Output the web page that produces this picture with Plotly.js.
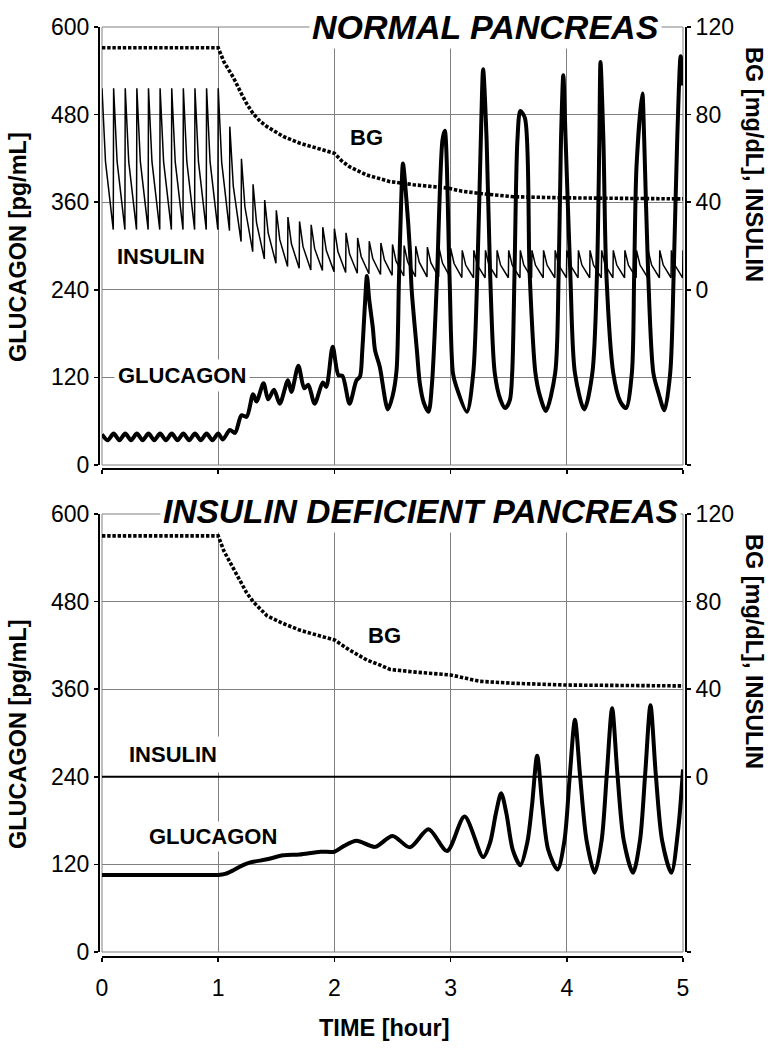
<!DOCTYPE html>
<html><head><meta charset="utf-8">
<script src="https://cdn.plot.ly/plotly-3.0.1.min.js"></script>
<style>html,body{margin:0;padding:0;background:#fff}</style>
</head><body>
<div id="chart" style="width:776px;height:1050px"></div>
<script>
// ---------- tick labels ----------
const timeTicks = [0, 1, 2, 3, 4, 5];
const glucTicks = [0, 120, 240, 360, 480, 600];
const rightTickVals = [-80, -40, 0, 40, 80, 120];
const rightTickText = ['', '', '0', '40', '80', '120'];

// ---------- NORMAL PANCREAS ----------
// glucagon [pg/mL]
const normGlucT = [0,0.05,0.1,0.15,0.2,0.25,0.3,0.35,0.4,0.45,0.5,0.55,0.6,0.65,0.7,0.75,0.8,0.85,0.9,0.95,1.0,
  1.04,1.10,1.145,1.20,1.245,1.30,1.33,1.39,1.43,1.48,1.53,1.60,1.63,1.69,1.74,1.775,1.83,1.90,1.93,1.985,2.035,2.07,2.13,2.19,2.22,
  2.24,2.265,2.28,2.30,2.33,2.35,2.39,2.46,2.50,
  2.535,2.555,2.575,2.59,2.62,2.65,2.665,2.71,2.735,2.77,2.81,
  2.84,2.88,2.93,2.95,2.99,3.02,3.05,3.14,
  3.195,3.23,3.26,3.28,3.31,3.34,3.38,3.43,3.47,
  3.51,3.53,3.55,3.575,3.60,3.64,3.68,3.73,3.77,3.82,
  3.90,3.93,3.95,3.97,3.99,4.03,4.07,4.15,
  4.22,4.26,4.28,4.29,4.315,4.34,4.40,4.46,4.51,
  4.56,4.58,4.60,4.65,4.665,4.70,4.745,4.79,4.84,
  4.89,4.92,4.95,4.98,5.0];
const normGlucV = [42,34,43,34,43,34,43,34,43,34,43,34,43,34,43,34,43,34,43,34,43,
  35,48,44,68,66,97,87,112,90,103,84,116,100,136,105,110,84,113,107,162,123,122,84,116,121,
  157,226,259,226,189,157,135,76,94,
  130,250,363,413,363,294,240,157,112,85,73,
  112,244,445,458,263,126,107,73,
  126,263,445,542,445,263,126,89,78,
  89,126,263,445,485,475,263,126,94,74,
  126,263,445,534,445,263,126,76,
  126,263,445,552,445,263,126,87,78,
  126,263,409,509,452,263,126,98,75,
  126,263,445,560,520];

// insulin (right axis units), one saw tooth per pulse
const normInsPeakT = [0,0.1,0.2,0.3,0.4,0.5,0.6,0.7,0.8,0.9,1.0,1.1,1.2,1.3,1.4,1.5,1.6,1.7,1.8,1.9,2.0,
  2.1,2.2,2.3,2.4,2.5,2.6,2.7,2.8,2.9,3.0,3.1,3.2,3.3,3.4,3.5,3.6,3.7,3.8,3.9,4.0,
  4.1,4.2,4.3,4.4,4.5,4.6,4.7,4.8,4.9,5.0];
const normInsPeak = [92,92,92,92,92,92,92,92,92,92,92,
  74.5,59.8,48.2,41,36.3,33.2,31.2,29.7,28.6,27.9,26,23.7,22.2,21.4,20.7,20.2,19.9,19.5,19.2,19,
  18,18,18,18,18,18,18,18,18,18,18,18,18,18,18,18,18,18,18,18];
const normInsMid = [58.5,58.5,58.5,58.5,58.5,58.5,58.5,58.5,58.5,58.5,
  58.2,47.2,37.8,30.5,26,22.9,21,19.7,18.8,18,17.5,16.4,15.2,14.3,13.7,13.2,12.8,12.6,12.4,12.2,12,
  11.3,11.3,11.3,11.3,11.3,11.3,11.3,11.3,11.3,11.3,11.3,11.3,11.3,11.3,11.3,11.3,11.3,11.3,11.3];
const normInsTrough = [27.5,27.5,27.5,27.5,27.5,27.5,27.5,27.5,27.5,27.5,
  27,22,17.4,14.1,12.1,10.6,9.8,9.0,8.8,8.3,7.9,7.6,7.3,7.0,6.6,6.3,6.0,5.9,5.8,5.7,5.6,
  5.5,5.5,5.5,5.5,5.5,5.5,5.5,5.5,5.5,5.5,5.5,5.5,5.5,5.5,5.5,5.5,5.5,5.5,5.5];
const toothMidOffset = 0.03;
const toothTroughOffset = 0.097;

// blood glucose [mg/dL] (right axis)
const normBgT = [0,1.0,1.05,1.13,1.2,1.245,1.3,1.36,1.42,1.5,1.56,1.7,1.85,2.0,2.06,2.13,2.28,2.39,2.48,2.68,2.97,3.1,3.25,3.54,3.97,5.0];
const normBgV = [110.5,110.5,104,97,89.5,85,80.5,77,74.5,71.8,70,67,64.6,62.3,59,56.2,52.4,50.8,49.4,48,46.5,45,44,42.5,42,41.5];

// ---------- INSULIN DEFICIENT PANCREAS ----------
const defGlucT = [0,0.9,1.0,1.06,1.13,1.2,1.27,1.42,1.56,1.70,
  1.88,2.0,2.08,2.19,2.35,2.50,2.65,2.81,2.97,3.12,
  3.28,3.34,3.39,3.435,3.48,3.535,3.60,
  3.66,3.70,3.745,3.79,3.84,3.92,
  3.98,4.025,4.07,4.115,4.17,4.24,
  4.30,4.345,4.39,4.435,4.49,4.57,
  4.63,4.675,4.72,4.765,4.82,4.90,
  4.96,5.0];
const defGlucV = [105.5,105.5,105.5,107,112,118,122.4,127,132.4,133.6,
  137.4,137.4,145,152.5,144,159,143.4,168,138.4,185.5,
  130,150,190,217.5,190,140,119,
  150,200,269,200,140,113,
  153,240,318,240,153,108.6,
  153,245,334,245,153,108.6,
  153,245,338,245,153,108.6,
  170,250];
const defBgT = [0,1.0,1.05,1.13,1.245,1.3,1.42,1.56,1.7,1.85,2.0,2.13,2.28,2.39,2.48,2.7,3.0,3.25,3.54,3.99,5.0];
const defBgV = [110,110,103,95,84,80,73.5,70,67,64.7,62.5,57.9,53.3,51.1,49,47.8,46.5,43.6,42.7,41.9,41.5];
const defInsT = [0, 5];
const defInsV = [0, 0];

// ---------- build insulin saw tooth ----------
const insX = [], insY = [];
for (let k = 0; k < normInsPeak.length; k++) {
  insX.push(normInsPeakT[k]); insY.push(normInsPeak[k]);
  if (k < normInsTrough.length) {
    insX.push(normInsPeakT[k] + toothMidOffset); insY.push(normInsMid[k]);
    insX.push(normInsPeakT[k] + toothTroughOffset); insY.push(normInsTrough[k]);
  }
}

const BLACK = '#000';
const GRID = '#808080';
const FONT = '"Liberation Sans", Arial, Helvetica, sans-serif';
const bgLine = {color: BLACK, width: 3.6, dash: '3.4px,1.8px'};

const traces = [
  {x: normBgT, y: normBgV, xaxis: 'x', yaxis: 'y2', mode: 'lines', line: bgLine, hoverinfo: 'skip'},
  {x: insX, y: insY, xaxis: 'x', yaxis: 'y2', mode: 'lines', line: {color: BLACK, width: 1.5}, hoverinfo: 'skip'},
  {x: normGlucT, y: normGlucV, xaxis: 'x', yaxis: 'y', mode: 'lines', line: {color: BLACK, width: 4, shape: 'spline', smoothing: 0.8}, hoverinfo: 'skip'},
  {x: defBgT, y: defBgV, xaxis: 'x2', yaxis: 'y4', mode: 'lines', line: bgLine, hoverinfo: 'skip'},
  {x: defInsT, y: defInsV, xaxis: 'x2', yaxis: 'y4', mode: 'lines', line: {color: BLACK, width: 2}, hoverinfo: 'skip'},
  {x: defGlucT, y: defGlucV, xaxis: 'x2', yaxis: 'y3', mode: 'lines', line: {color: BLACK, width: 4, shape: 'spline', smoothing: 0.8}, hoverinfo: 'skip'}
];

const xBase = {
  domain: [3/587, 584/587], range: [0, 5], anchor: 'free',
  tickvals: timeTicks, ticks: 'outside', ticklen: 4, tickwidth: 1.5, tickcolor: BLACK,
  showline: true, linewidth: 2, linecolor: BLACK,
  showgrid: true, gridcolor: GRID, gridwidth: 1, zeroline: false,
  tickfont: {family: FONT, size: 23, color: BLACK}, fixedrange: true
};
const yLeftBase = {
  range: [0, 600], anchor: 'free', position: 0, tickvals: glucTicks,
  ticks: 'outside', ticklen: 4, tickwidth: 1.5, tickcolor: BLACK,
  showline: true, linewidth: 2, linecolor: BLACK,
  showgrid: true, gridcolor: GRID, gridwidth: 1, zeroline: false,
  tickfont: {family: FONT, size: 23, color: BLACK}, fixedrange: true
};
const yRightBase = {
  range: [-80, 120], anchor: 'free', position: 1, side: 'right',
  tickvals: rightTickVals, ticktext: rightTickText,
  ticks: 'outside', ticklen: 4, tickwidth: 1.5, tickcolor: BLACK,
  showline: true, linewidth: 2, linecolor: BLACK,
  showgrid: false, zeroline: false,
  tickfont: {family: FONT, size: 23, color: BLACK}, fixedrange: true
};

const lbl = (text, xref, yref, x, y, pad, bg) => ({
  text: '<b>' + text + '</b>', xref, yref, x, y, showarrow: false,
  xanchor: 'center', yanchor: 'middle',
  font: {family: FONT, size: 22, color: BLACK},
  bgcolor: bg ? '#fff' : 'rgba(0,0,0,0)', borderpad: pad
});

const annotations = [
  {text: '<b><i>NORMAL PANCREAS</i></b>', xref: 'x', yref: 'y', x: 3.296, y: 600, showarrow: false,
   xanchor: 'center', yanchor: 'middle', font: {family: FONT, size: 34, color: BLACK}, bgcolor: '#fff', borderpad: 2},
  {text: '<b><i>INSULIN DEFICIENT PANCREAS</i></b>', xref: 'x2', yref: 'y3', x: 2.737, y: 600, yshift: 3,
   showarrow: false, xanchor: 'center', yanchor: 'middle', font: {family: FONT, size: 33.5, color: BLACK}, bgcolor: '#fff', borderpad: 2},
  lbl('BG', 'x', 'y', 2.28, 449, 2, false),
  lbl('INSULIN', 'x', 'y', 0.508, 286, 4, true),
  lbl('GLUCAGON', 'x', 'y', 0.688, 122, 3, true),
  lbl('BG', 'x2', 'y3', 2.427, 433, 2, false),
  lbl('INSULIN', 'x2', 'y3', 0.611, 270, 5, true),
  lbl('GLUCAGON', 'x2', 'y3', 0.955, 158, 2, true),
  {text: '<b>GLUCAGON [pg/mL]</b>', xref: 'paper', yref: 'paper', x: -0.1388, y: 0.7629, textangle: -90,
   showarrow: false, xanchor: 'center', yanchor: 'middle', font: {family: FONT, size: 23.5, color: BLACK}},
  {text: '<b>GLUCAGON [pg/mL]</b>', xref: 'paper', yref: 'paper', x: -0.1388, y: 0.2392, textangle: -90,
   showarrow: false, xanchor: 'center', yanchor: 'middle', font: {family: FONT, size: 23.5, color: BLACK}},
  {text: '<b>BG [mg/dL], INSULIN</b>', xref: 'paper', yref: 'paper', x: 1.1158, y: 0.8516, textangle: 90,
   showarrow: false, xanchor: 'center', yanchor: 'middle', font: {family: FONT, size: 23.5, color: BLACK}},
  {text: '<b>BG [mg/dL], INSULIN</b>', xref: 'paper', yref: 'paper', x: 1.1158, y: 0.328, textangle: 90,
   showarrow: false, xanchor: 'center', yanchor: 'middle', font: {family: FONT, size: 23.5, color: BLACK}},
  {text: '<b>TIME [hour]</b>', xref: 'paper', yref: 'paper', x: 0.4872, y: -0.0763,
   showarrow: false, xanchor: 'center', yanchor: 'middle', font: {family: FONT, size: 23.5, color: BLACK}}
];

const shapes = [
  {type: 'rect', xref: 'x domain', yref: 'y domain', x0: 0, x1: 1, y0: 0, y1: 1, line: {color: GRID, width: 1}, layer: 'below'},
  {type: 'rect', xref: 'x2 domain', yref: 'y3 domain', x0: 0, x1: 1, y0: 0, y1: 1, line: {color: GRID, width: 1}, layer: 'below'}
];

const layout = {
  width: 776, height: 1050,
  margin: {l: 99, r: 90, t: 27, b: 93, pad: 0},
  paper_bgcolor: '#fff', plot_bgcolor: 'rgba(0,0,0,0)',
  showlegend: false,
  font: {family: FONT, size: 22, color: BLACK},
  xaxis: Object.assign({}, xBase, {position: 0.52473, showticklabels: false}),
  xaxis2: Object.assign({}, xBase, {position: 0, showticklabels: true, ticklabelstandoff: 6}),
  yaxis: Object.assign({}, yLeftBase, {domain: [0.52903, 1]}),
  yaxis2: Object.assign({}, yRightBase, {overlaying: 'y'}),
  yaxis3: Object.assign({}, yLeftBase, {domain: [0.005376, 0.47634]}),
  yaxis4: Object.assign({}, yRightBase, {overlaying: 'y3'}),
  annotations, shapes
};

Plotly.newPlot('chart', traces, layout, {staticPlot: true, displayModeBar: false});
</script>
</body></html>
